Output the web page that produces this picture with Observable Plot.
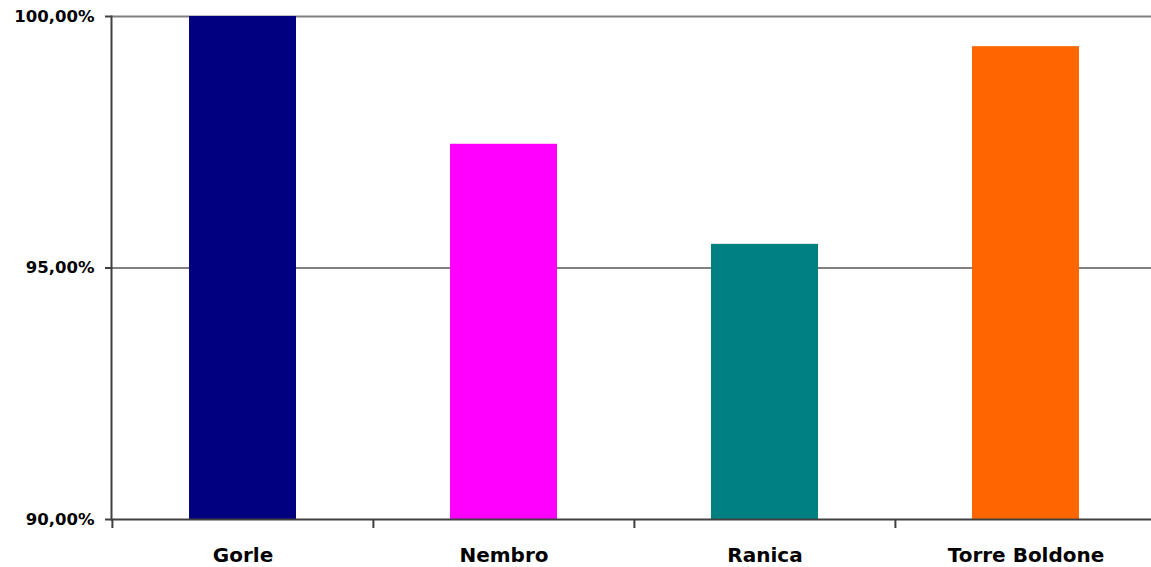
<!DOCTYPE html>
<html>
<head>
<meta charset="utf-8">
<script src="https://cdn.jsdelivr.net/npm/d3@7"></script>
<script src="https://cdn.jsdelivr.net/npm/@observablehq/plot@0.6"></script>
<style>
  html, body { margin: 0; padding: 0; background: #fff; }
  #chart svg { display: block; overflow: hidden; }
</style>
</head>
<body>
<div id="chart"></div>
<script>
const categories = ["Gorle", "Nembro", "Ranica", "Torre Boldone"];
const values = [100.0, 97.46, 95.47, 99.40];
const colors = ["#000080", "#FF00FF", "#008080", "#FF6600"];
const yTicks = [90, 95, 100];
const gridTicks = [95, 100];

const data = categories.map((c, i) => ({category: c, value: values[i], color: colors[i]}));
const fmt = d => d.toFixed(2).replace(".", ",") + "%";

const chart = Plot.plot({
  width: 1151,
  height: 567,
  marginLeft: 111,
  marginRight: -5,
  marginTop: 16,
  marginBottom: 48,
  style: {fontFamily: "'DejaVu Sans', sans-serif", fontWeight: "bold", color: "#000", background: "#fff"},
  x: {domain: categories, padding: 0},
  y: {domain: [90, 100]},
  marks: [
    Plot.ruleY(gridTicks, {stroke: "#808080", strokeWidth: 2}),
    Plot.barY(data, {x: "category", y1: 90, y2: "value", fill: "color", insetLeft: 77, insetRight: 77}),
    Plot.ruleY([90], {stroke: "#404040", strokeWidth: 2}),
    Plot.frame({anchor: "left", stroke: "#404040", strokeWidth: 2}),
    Plot.axisY({ticks: yTicks, tickFormat: fmt, tickSize: 6, tickPadding: 11, fontSize: 16.5, stroke: "#404040", strokeWidth: 2, label: null}),
    Plot.axisX({tickSize: 9, tickFormat: () => "", dx: -130.6, stroke: "#404040", strokeWidth: 2, label: null}),
    Plot.axisX({tickSize: 0, tickPadding: 28, fontSize: 20, label: null})
  ]
});
document.getElementById("chart").appendChild(chart);
</script>
</body>
</html>
